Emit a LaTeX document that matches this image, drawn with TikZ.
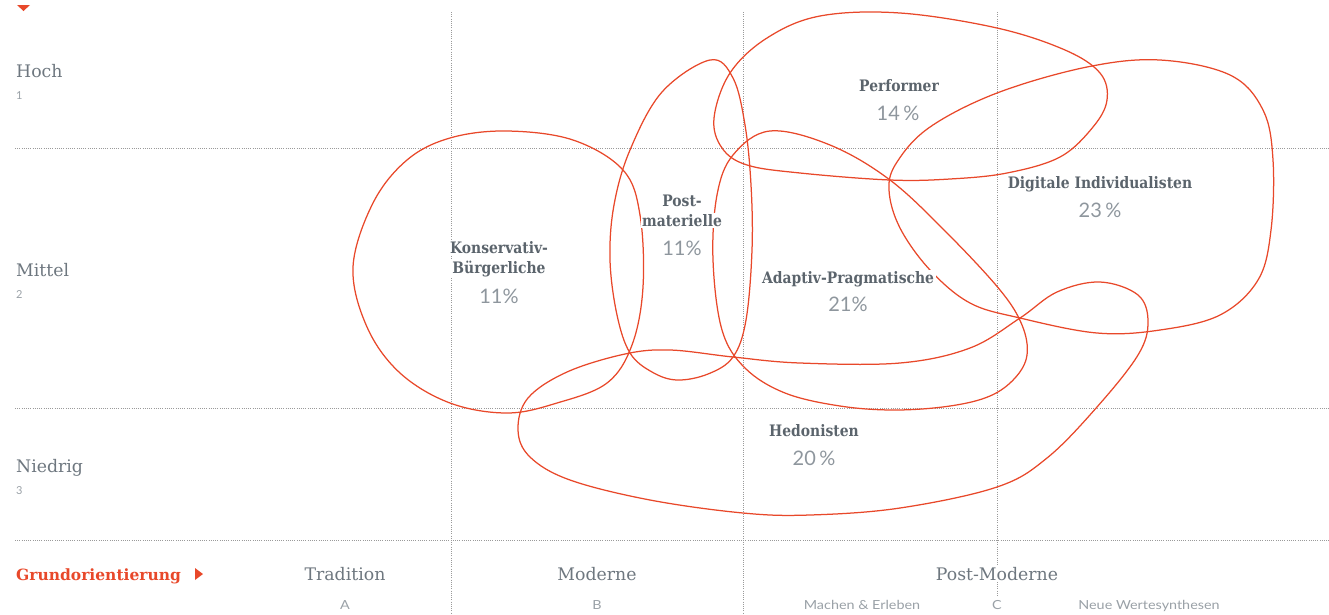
\documentclass[tikz,border=0pt]{standalone}
\usepackage{fontspec}
\newfontfamily\slab{DejaVu Serif}
\newfontfamily\slabn[FakeStretch=0.88]{DejaVu Serif}
\newfontfamily\lsans{Lato}
\newfontfamily\wsans[FakeStretch=1.15]{Lato}
\definecolor{redc}{HTML}{E8482A}
\definecolor{txt}{HTML}{5B646C}
\definecolor{axt}{HTML}{6E777F}
\definecolor{pctc}{HTML}{8E969D}
\definecolor{subc}{HTML}{9AA1A7}
\definecolor{gridc}{HTML}{9A9A9A}
\tikzset{
  gridline/.style={draw=gridc, line width=0.8pt, dash pattern=on 0.8pt off 1.4pt},
  seg/.style={draw=redc, line width=1.25pt, smooth cycle, tension=0.6},
  cat/.style={font=\slabn\bfseries\fontsize{15.8}{16}\selectfont, text=txt, fill=white, inner sep=1.5pt, anchor=base},
  pct/.style={font=\lsans\fontsize{20}{20}\selectfont, text=pctc, inner sep=0pt, anchor=base},
  axl/.style={font=\slab\fontsize{17.3}{17.3}\selectfont, text=axt, inner sep=0pt, anchor=base west},
  axn/.style={font=\lsans\fontsize{11}{11}\selectfont, text=subc, inner sep=0pt, anchor=base west},
  colhead/.style={font=\slab\fontsize{17.3}{17.3}\selectfont, text=axt, fill=white, inner sep=2pt, anchor=base},
  colsub/.style={font=\wsans\fontsize{12.5}{12.5}\selectfont, text=subc, fill=white, inner sep=2pt, anchor=base}
}
\begin{document}
\begin{tikzpicture}[x=1pt,y=-1pt]
\useasboundingbox (0,0) rectangle (1329,614);
% grid
\draw[gridline] (15,148) -- (1329,148);
\draw[gridline] (15,408) -- (1329,408);
\draw[gridline] (15,540) -- (1329,540);
\draw[gridline] (451,12) -- (451,614);
\draw[gridline] (743,12) -- (743,614);
\draw[gridline] (997,12) -- (997,596);
% triangles
\fill[redc] (17,5) -- (30,5) -- (23.5,11) -- cycle;
\fill[redc] (195,568) -- (195,580) -- (203,574) -- cycle;
% loops
% Konservativ-Buergerliche
\draw[seg] plot coordinates {(353,267) (373,203) (407,160) (450,138) (507,131) (573,140) (623,170) (640,215) (643,287) (632,345) (607,383) (557,403) (507,413) (450,403) (400,373) (367,327)};
% Postmaterielle
\draw[seg] plot coordinates {(710,60) (733,78) (745,125) (751,185) (752,250) (746,320) (733,357) (708,374) (677,380) (652,372) (630,353) (617,315) (610,260) (614,205) (630,150) (662,92)};
% Performer
\draw[seg] plot coordinates {(714,118) (730,73) (767,38) (820,16) (900,13) (997,28) (1065,50) (1100,73) (1107,100) (1093,127) (1060,157) (1007,173) (950,179) (890,180) (800,173) (747,165) (722,148)};
% Adaptiv-Pragmatische
\draw[seg] plot coordinates {(717,195) (733,155) (770,131) (830,145) (890,180) (947,233) (1000,290) (1022,325) (1027,355) (1015,378) (990,396) (950,406) (895,410) (840,406) (785,393) (745,368) (722,330) (713,260)};
% Digitale Individualisten
\draw[seg] plot coordinates {(889,190) (900,228) (930,270) (970,303) (1020,318) (1097,333) (1160,330) (1220,315) (1258,280) (1271,230) (1273,160) (1263,110) (1230,75) (1160,60) (1087,67) (997,93) (930,127) (897,162)};
% Hedonisten
\draw[seg] plot coordinates {(518,430) (530,457) (570,480) (650,500) (743,513) (810,515) (900,508) (997,487) (1047,458) (1097,407) (1138,355) (1148,322) (1138,295) (1100,282) (1057,292) (1020,318) (970,348) (900,363) (800,363) (733,357) (670,350) (625,354) (567,372) (528,398)};
% category labels
\node[cat] (perf) at (899,91) {Performer};
\node[pct] (perfp) at (898,120) {14\,\%};
\node[cat] (digi) at (1100,188) {Digitale Individualisten};
\node[pct] (digip) at (1100,217) {23\,\%};
\node[cat] (post1) at (682,206) {Post-};
\node[cat] (post2) at (682,226) {materielle};
\node[pct] (postp) at (682,255) {11\%};
\node[cat] (kons1) at (499,253) {Konservativ-};
\node[cat] (kons2) at (499,273) {Bürgerliche};
\node[pct] (konsp) at (499,303) {11\%};
\node[cat] (adap) at (848,283) {Adaptiv-Pragmatische};
\node[pct] (adapp) at (848,311) {21\%};
\node[cat] (hedo) at (814,436) {Hedonisten};
\node[pct] (hedop) at (814,465) {20\,\%};
% axis labels
\node[axl] (hoch) at (16,77) {Hoch};
\node[axn] (n1) at (16,99) {1};
\node[axl] (mittel) at (16,276) {Mittel};
\node[axn] (n2) at (16,298) {2};
\node[axl] (niedrig) at (16,472) {Niedrig};
\node[axn] (n3) at (16,494) {3};
\node[font=\slab\bfseries\fontsize{15.5}{15.5}\selectfont, text=redc, inner sep=0pt, anchor=base west] (grund) at (16,580) {Grundorientierung};
\node[colhead] (trad) at (345,580) {Tradition};
\node[colhead] (mod) at (597,580) {Moderne};
\node[colhead] (pmod) at (997,580) {Post-Moderne};
\node[colsub] (sa) at (345,609) {A};
\node[colsub] (sb) at (597,609) {B};
\node[colsub] (sc) at (997,609) {C};
\node[colsub] (me) at (862,609) {Machen \& Erleben};
\node[colsub] (nw) at (1149,609) {Neue Wertesynthesen};
\end{tikzpicture}
\end{document}
